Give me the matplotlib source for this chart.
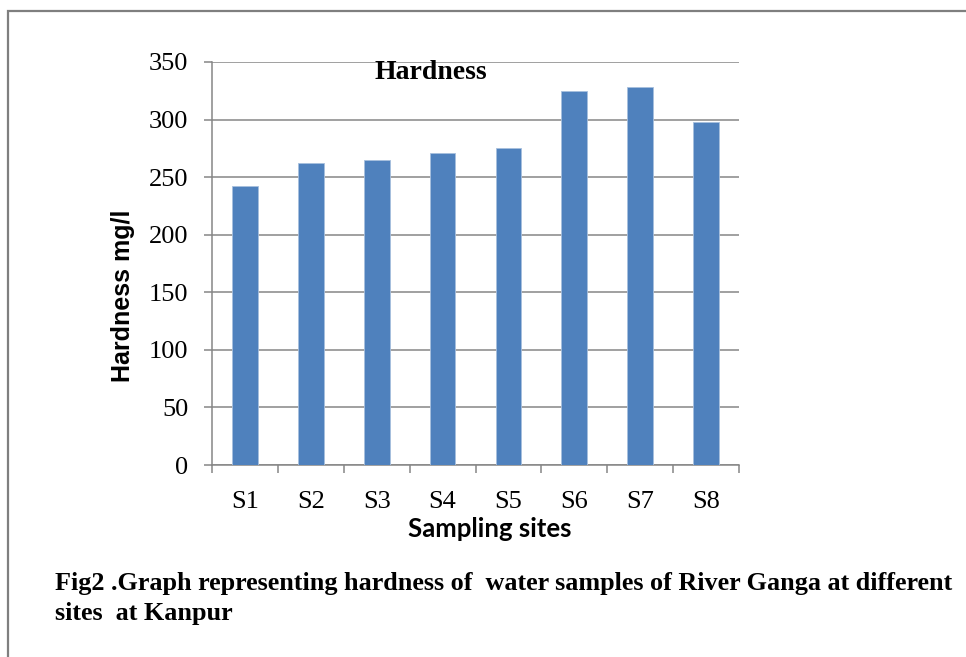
import matplotlib
matplotlib.use("Agg")
import matplotlib.pyplot as plt
from matplotlib.patches import Rectangle
from matplotlib.ticker import FixedLocator

sites = ["S1", "S2", "S3", "S4", "S5", "S6", "S7", "S8"]
hardness = [242, 262, 265, 271, 275, 325, 328, 298]
y_ticks = [0, 50, 100, 150, 200, 250, 300, 350]

GRAY = "#868686"
BLUE = "#4F81BD"
SERIF = "Liberation Serif"

fig = plt.figure(figsize=(9.66, 6.57), dpi=100)
ax = fig.add_axes([212 / 966, 1 - 465 / 657, 527 / 966, 403 / 657])

x = list(range(len(sites)))
ax.bar(x, hardness, width=0.39, color=BLUE, edgecolor="#A7BFDE", linewidth=0.6, zorder=3)

ax.set_xlim(-0.5, len(sites) - 0.5)
ax.set_ylim(0, 350)
ax.set_yticks(y_ticks)
ax.set_yticklabels([str(v) for v in y_ticks], fontfamily=SERIF, fontsize=19)
ax.set_xticks(x)
ax.set_xticklabels(sites, fontfamily=SERIF, fontsize=19)
ax.tick_params(axis="x", which="major", length=0, pad=19)
ax.xaxis.set_minor_locator(FixedLocator([i - 0.5 for i in range(len(sites) + 1)]))
ax.tick_params(axis="x", which="minor", length=6, width=1.1, color=GRAY, direction="out")
ax.tick_params(axis="y", length=6, width=1.1, color=GRAY, direction="out", pad=11)

ax.grid(axis="y", color=GRAY, linewidth=1.1, zorder=0)
ax.set_axisbelow(True)
for side in ("top", "right"):
    ax.spines[side].set_visible(False)
for side in ("left", "bottom"):
    ax.spines[side].set_color(GRAY)
    ax.spines[side].set_linewidth(1.1)

ax.text(0.415, 341, "Hardness", transform=ax.get_yaxis_transform(),
        ha="center", va="center", fontfamily=SERIF, fontweight="bold", fontsize=20)

fig.text(123 / 966, 1 - 296 / 657, "Hardness mg/l", rotation=90, ha="center", va="center",
         fontfamily="Liberation Sans", fontweight="bold", fontsize=18)
fig.text(490 / 966, 1 - 529 / 657, "Sampling sites", ha="center", va="center",
         fontfamily="Lato", fontweight="bold", fontsize=18.5)

fig.text(55 / 966, 1 - 590 / 657, "Fig2 .Graph representing hardness of  water samples of River Ganga at different",
         ha="left", va="baseline", fontfamily=SERIF, fontweight="bold", fontsize=18.8)
fig.text(55 / 966, 1 - 620 / 657, "sites  at Kanpur",
         ha="left", va="baseline", fontfamily=SERIF, fontweight="bold", fontsize=18.8)

# page frame, cut off at right and bottom
fig.patches.append(Rectangle((8 / 966, -0.1), 1.2, 1 - 11 / 657 + 0.1,
                             transform=fig.transFigure, fill=False,
                             edgecolor="#7F7F7F", linewidth=1.6))

fig.savefig("out.png", dpi=100)
